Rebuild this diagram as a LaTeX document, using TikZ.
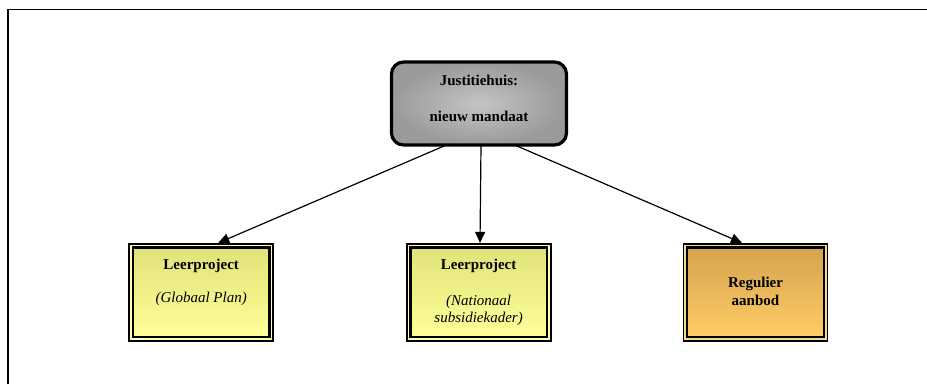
\documentclass[tikz,border=0pt]{standalone}
\usepackage{fontspec}
\setmainfont{Liberation Serif}
\usetikzlibrary{arrows.meta,calc}

\definecolor{grayin}{HTML}{C4C4C4}
\definecolor{grayout}{HTML}{9A9A9A}
\definecolor{yeltop}{HTML}{E2E27A}
\definecolor{yelbot}{HTML}{FFFF99}
\definecolor{yelgap}{HTML}{FFFFB0}
\definecolor{orgtop}{HTML}{D4A44E}
\definecolor{orgbot}{HTML}{FFCC66}
\definecolor{orggap}{HTML}{F7D690}

\tikzset{
  txt/.style={font=\fontsize{15}{17}\selectfont, inner sep=0pt, anchor=base},
  headbox/.style={draw=black, line width=3.2pt, rounded corners=12pt,
    inner color=grayin, outer color=grayout,
    minimum width=175pt, minimum height=83pt, inner sep=0pt},
  outerframe/.style={draw=black, line width=1.8pt, fill=#1,
    minimum width=144pt, minimum height=97pt, inner sep=0pt},
  innerframe/.style={draw=black, line width=2.3pt,
    minimum width=136.5pt, minimum height=89.5pt, inner sep=0pt},
  link/.style={line width=1.2pt, -{Triangle[length=11pt,width=10pt]}},
}

\begin{document}
\begin{tikzpicture}[x=1pt,y=-1pt]
\useasboundingbox (0,0) rectangle (927,384);

% page frame (top and left edges)
\draw[line width=1.2pt] (8,384) -- (8,9.5) -- (927,9.5);

% top node
\node[headbox] (top) at (479,103.5) {};
\node[txt, font=\fontsize{15}{17}\selectfont\bfseries] (topa) at (479,85.3) {Justitiehuis:};
\node[txt, font=\fontsize{15}{17}\selectfont\bfseries] (topb) at (479,121.5) {nieuw mandaat};

% left box
\node[outerframe=yelgap] (b1) at (201.2,292.3) {};
\node[innerframe, top color=yeltop, bottom color=yelbot] (b1i) at (b1) {};
\node[txt, font=\fontsize{15}{17}\selectfont\bfseries] (b1a) at (201.2,269.3) {Leerproject};
\node[txt, font=\fontsize{15}{17}\selectfont\itshape] (b1b) at (201.2,302.5) {(Globaal Plan)};

% middle box
\node[outerframe=yelgap] (b2) at (478.6,292.3) {};
\node[innerframe, top color=yeltop, bottom color=yelbot] (b2i) at (b2) {};
\node[txt, font=\fontsize{15}{17}\selectfont\bfseries] (b2a) at (478.6,269.8) {Leerproject};
\node[txt, font=\fontsize{15}{17}\selectfont\itshape] (b2b) at (478.6,305.5) {(Nationaal};
\node[txt, font=\fontsize{15}{17}\selectfont\itshape] (b2c) at (478.6,322.5) {subsidiekader)};

% right box
\node[outerframe=orggap] (b3) at (755.5,292.3) {};
\node[innerframe, top color=orgtop, bottom color=orgbot] (b3i) at (b3) {};
\node[txt, font=\fontsize{15}{17}\selectfont\bfseries] (b3a) at (755.5,287.5) {Regulier};
\node[txt, font=\fontsize{15}{17}\selectfont\bfseries] (b3b) at (755.5,305.5) {aanbod};

% connectors
\coordinate (s1) at ($(top.south)+(-34,-1)$);
\coordinate (s2) at ($(top.south)+(2,-1)$);
\coordinate (s3) at ($(top.south)+(37,-1)$);
\draw[link] (s1) -- ($(b1.north)+(17,0)$);
\draw[link] (s2) -- ($(b2.north)+(1.4,0)$);
\draw[link] (s3) -- ($(b3.north)+(-13.5,0)$);
\end{tikzpicture}
\end{document}
